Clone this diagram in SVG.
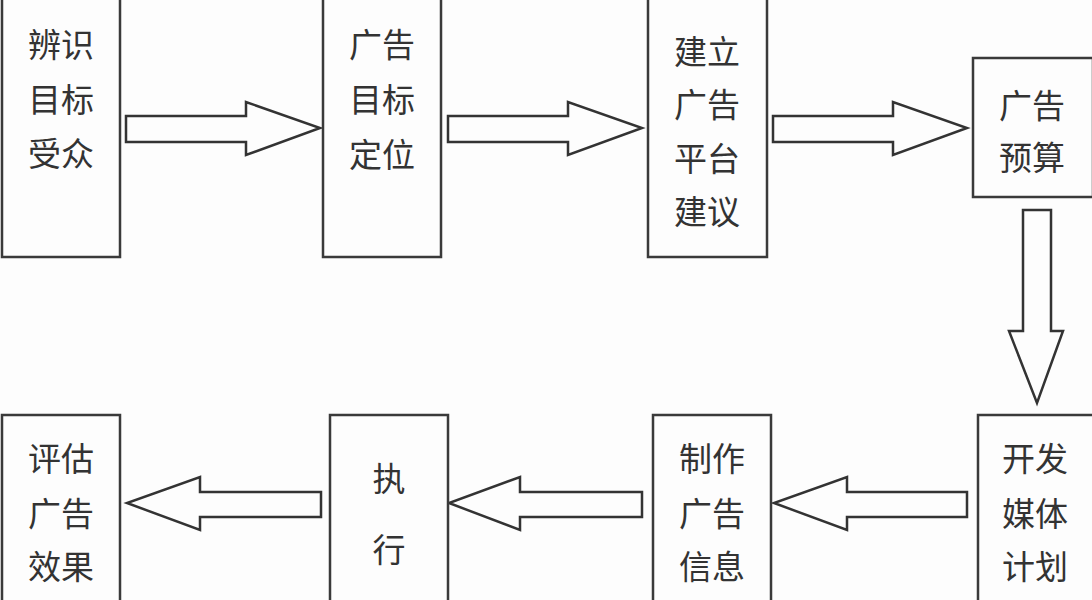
<svg xmlns="http://www.w3.org/2000/svg" width="1092" height="600" viewBox="0 0 1092 600">
<style>
.box{fill:#fdfdfd;stroke:#3a3a3a;stroke-width:2.5}
.arr{fill:#fdfdfd;stroke:#333;stroke-width:2.5;stroke-linejoin:miter}
text{font-family:"Noto Sans CJK SC","Noto Sans",sans-serif;font-size:33px;fill:#333;text-anchor:middle;dominant-baseline:central}
</style>
<rect width="1092" height="600" fill="#fdfdfd"/>
<g id="connectors">
<polygon class="arr" points="126,116 246,116 246,102 320,128 246,155 246,142 126,142"/>
<polygon class="arr" points="448,116 568,116 568,102 642,128 568,155 568,142 448,142"/>
<polygon class="arr" points="773,116 893,116 893,102 967,128 893,155 893,142 773,142"/>
<polygon class="arr" points="1023,210 1051,210 1051,331 1063,331 1037,403 1009,331 1023,331"/>
<polygon class="arr" points="967,492 847,492 847,477 774,503 847,530 847,517 967,517"/>
<polygon class="arr" points="642,492 520,492 520,477 449,503 520,530 520,517 642,517"/>
<polygon class="arr" points="321,492 200,492 200,477 127,503 200,530 200,517 321,517"/>
</g>
<g id="n1"><rect class="box" x="2" y="-5" width="118" height="262"/>
<text x="61" y="43">辨识</text><text x="61" y="98">目标</text><text x="61" y="152">受众</text></g>
<g id="n2"><rect class="box" x="323" y="-5" width="118" height="262"/>
<text x="382" y="43">广告</text><text x="382" y="98">目标</text><text x="382" y="153">定位</text></g>
<g id="n3"><rect class="box" x="648" y="-5" width="119" height="262"/>
<text x="707" y="50">建立</text><text x="707" y="103">广告</text><text x="707" y="157">平台</text><text x="707" y="210">建议</text></g>
<g id="n4"><rect class="box" x="973" y="58" width="120" height="139"/>
<text x="1032" y="104">广告</text><text x="1032" y="156">预算</text></g>
<g id="n5"><rect class="box" x="978" y="415" width="120" height="190"/>
<text x="1035" y="457">开发</text><text x="1035" y="512">媒体</text><text x="1035" y="565">计划</text></g>
<g id="n6"><rect class="box" x="653" y="415" width="118" height="190"/>
<text x="712" y="457">制作</text><text x="712" y="512">广告</text><text x="712" y="565">信息</text></g>
<g id="n7"><rect class="box" x="330" y="415" width="118" height="190"/>
<text x="389" y="477">执</text><text x="389" y="548">行</text></g>
<g id="n8"><rect class="box" x="2" y="415" width="118" height="190"/>
<text x="61" y="457">评估</text><text x="61" y="512">广告</text><text x="61" y="565">效果</text></g>
</svg>
